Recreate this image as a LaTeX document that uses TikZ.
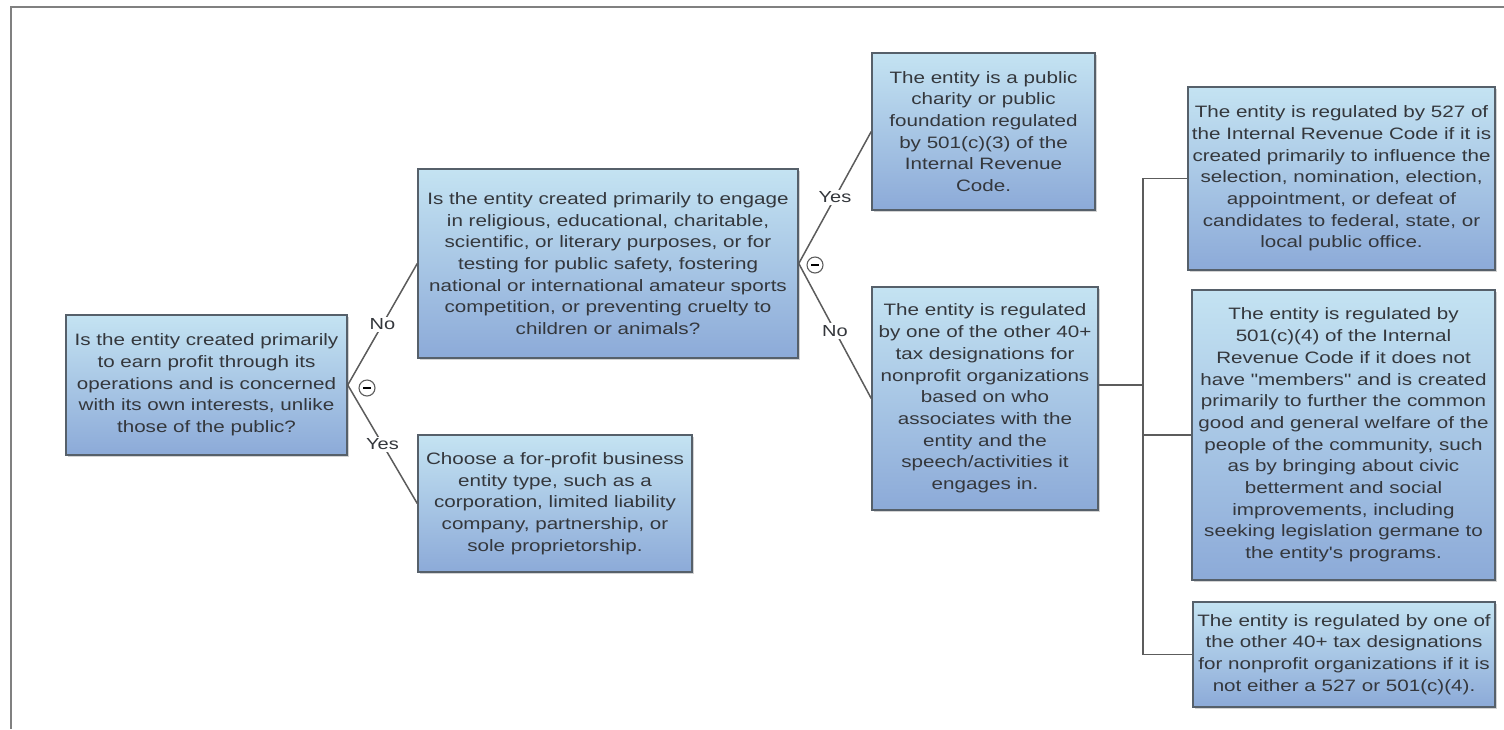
\documentclass[tikz,border=0pt]{standalone}
\usepackage{fontspec}
\newfontfamily\boxfont[FakeStretch=1.25]{Liberation Sans}
\usetikzlibrary{positioning,shadows}
\definecolor{boxtop}{HTML}{C4E3F2}
\definecolor{boxbottom}{HTML}{8CAAD8}
\definecolor{boxline}{HTML}{56606A}
\definecolor{boxtext}{HTML}{34373C}
\definecolor{linkgray}{HTML}{5C5C5C}

\begin{document}
\begin{tikzpicture}[-,line width=0.75pt,draw=linkgray,node distance=1cm,
    box node/.style={rectangle,draw=boxline,top color=boxtop,bottom color=boxbottom,drop shadow={opacity=0.35,shadow xshift=1.2pt,shadow yshift=-1.2pt},align=center,inner xsep=1pt,inner ysep=2pt,text=boxtext,font=\boxfont\fontsize{8.25}{10.85}\selectfont},
    label node/.style={fill=white,inner sep=1pt,text=boxtext,font=\boxfont\fontsize{8}{10}\selectfont},
    fold node/.style={circle,draw=linkgray,line width=0.55pt,fill=white,inner sep=0pt,minimum size=8pt},
    vh/.style={to path={|- (\tikztotarget)}}]
            \useasboundingbox (0,0) rectangle (752pt,-364.5pt);
            \draw[line width=1pt,draw=gray] (752pt,-3.5pt) -- (5.5pt,-3.5pt) -- (5.5pt,-364.5pt);

            \node[box node, minimum width=140.5, minimum height=70] (1) at (103.25pt,-192.5pt) {Is the entity created primarily\\to earn profit through its\\operations and is concerned\\with its own interests, unlike\\those of the public?};
            \node[box node, minimum width=190, minimum height=94.5] (2) [right of = 1, xshift = 172.3, yshift = 60.75] {Is the entity created primarily to engage\\in religious, educational, charitable,\\scientific, or literary purposes, or for\\testing for public safety, fostering\\national or international amateur sports\\competition, or preventing cruelty to\\children or animals?};
            \node[box node, minimum width=137, minimum height=68.5] (3) [right of = 1, xshift = 145.8, yshift = -59.25] {Choose a for-profit business\\entity type, such as a\\corporation, limited liability\\company, partnership, or\\sole proprietorship.};
            \node[box node, minimum width=111.5, minimum height=78.5] (4) [right of = 2, xshift = 159.3, yshift = 66] {The entity is a public\\charity or public\\foundation regulated\\by 501(c)(3) of the\\Internal Revenue\\Code.};
            \node[box node, minimum width=113, minimum height=111.5] (5) [right of = 2, xshift = 160.05, yshift = -67.5] {The entity is regulated\\by one of the other 40+\\tax designations for\\nonprofit organizations\\based on who\\associates with the\\entity and the\\speech/activities it\\engages in.};
            \node[box node, minimum width=153.5, minimum height=91.5] (6) [right of = 5, xshift = 149.8, yshift = 110] {The entity is regulated by 527 of\\the Internal Revenue Code if it is\\created primarily to influence the\\selection, nomination, election,\\appointment, or defeat of\\candidates to federal, state, or\\local public office.};
            \node[box node, minimum width=151.5, minimum height=145] (7) [right of = 5, xshift = 150.8, yshift = -18.25] {The entity is regulated by\\501(c)(4) of the Internal\\Revenue Code if it does not\\have "members" and is created\\primarily to further the common\\good and general welfare of the\\people of the community, such\\as by bringing about civic\\betterment and social\\improvements, including\\seeking legislation germane to\\the entity's programs.};
            \node[box node, minimum width=151, minimum height=52.5] (8) [right of = 5, xshift = 151.05, yshift = -128] {The entity is regulated by one of\\the other 40+ tax designations\\for nonprofit organizations if it is\\not either a 527 or 501(c)(4).};
            \coordinate (x) at ([xshift=22pt,yshift=6.75pt]5.east);

            \path
                (1.east) edge node[label node]{No} (2.west)
                (1.east) edge node[label node]{Yes} (3.west)
                (2.east) edge node[label node]{Yes} (4.west)
                (2.east) edge node[label node]{No} (5.west)
                (x -| 5.east) edge (x)
                (x) edge[vh] (6)
                (x) edge[vh] (7)
                (x) edge[vh] (8)
                ;

            \node[fold node] (9) [right of = 1, xshift = 51.8, yshift = -1.5] {\rule{4pt}{0.6pt}};
            \node[fold node] (10) [right of = 2, xshift = 75.05, yshift = -0.75] {\rule{4pt}{0.6pt}};
        \end{tikzpicture}
\end{document}
